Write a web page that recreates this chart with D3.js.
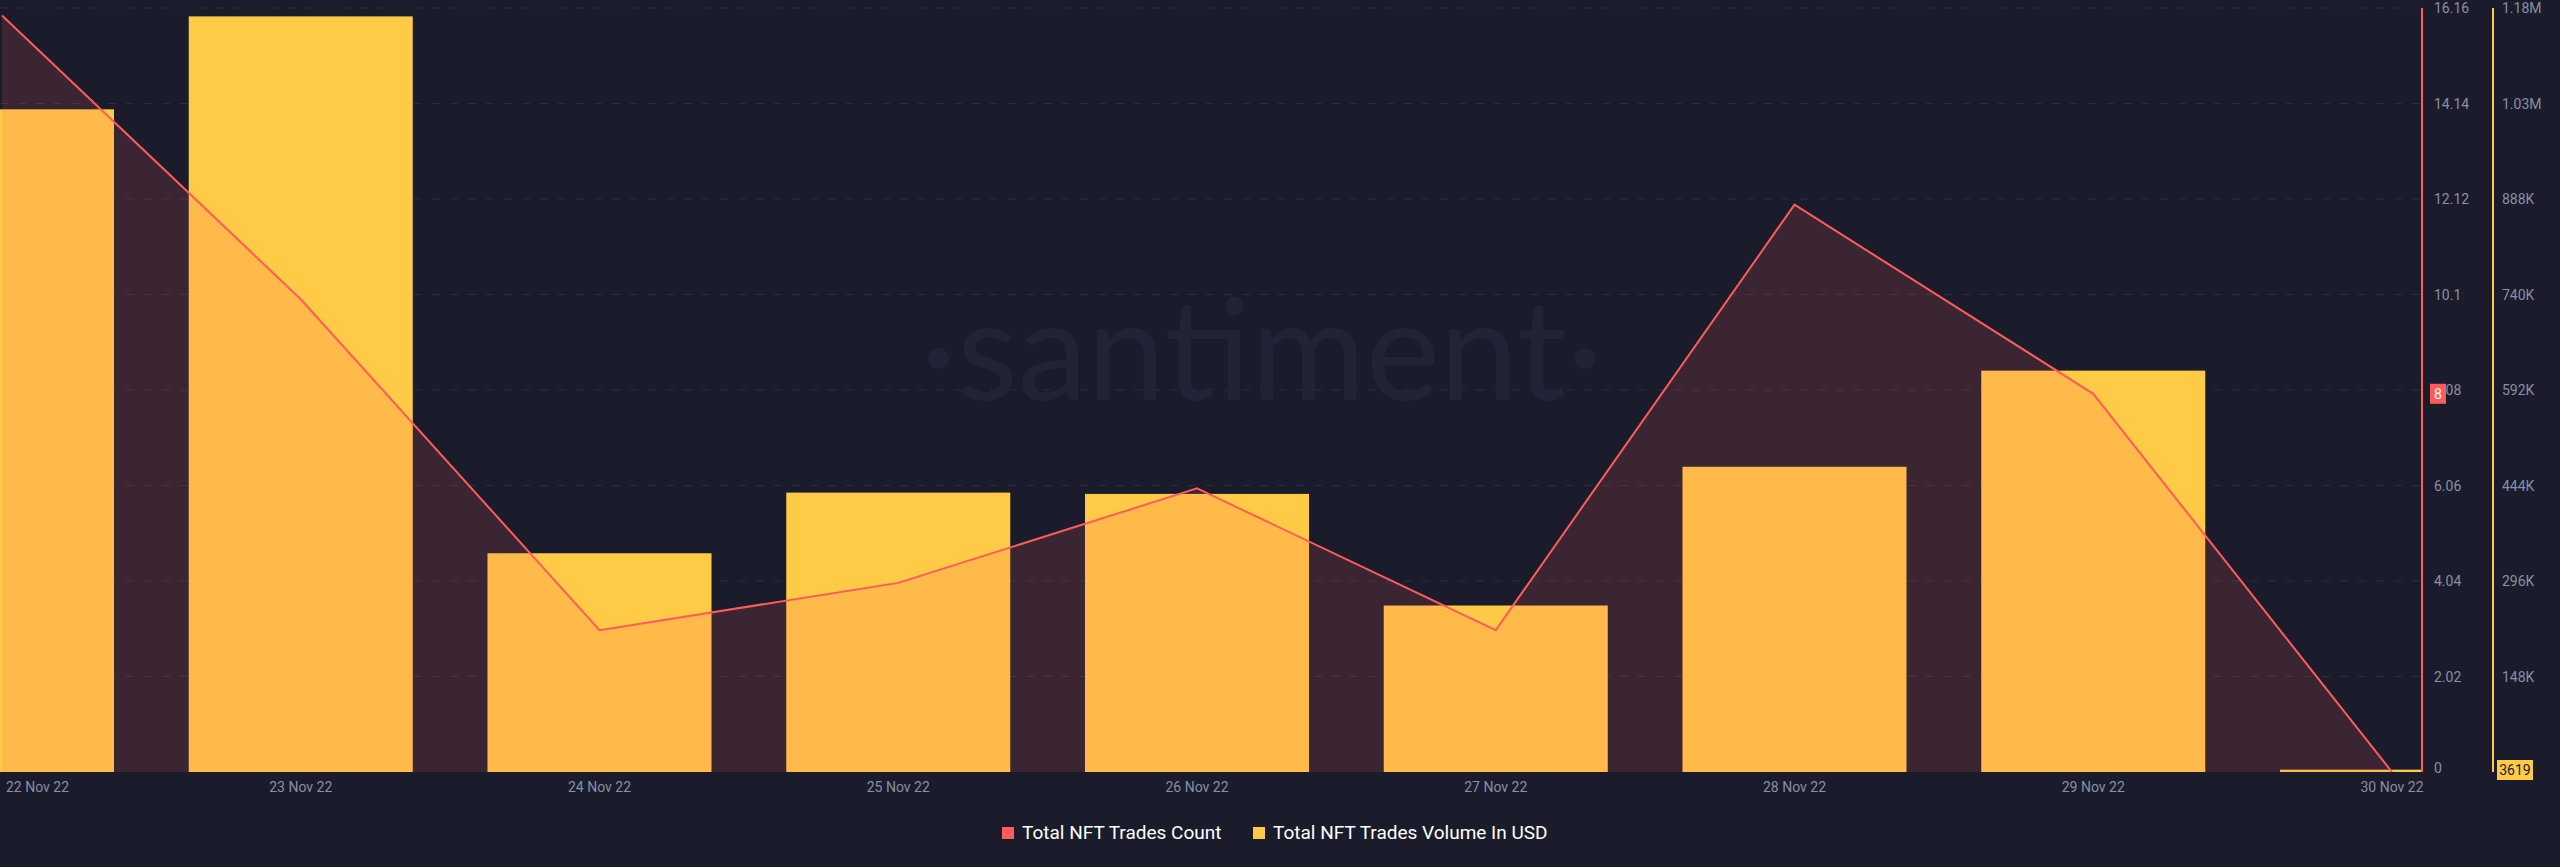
<!DOCTYPE html><html><head><meta charset="utf-8">
<script src="https://cdn.jsdelivr.net/npm/d3@7"></script>
<style>body{margin:0;background:#1a1c2c}</style></head><body>
<svg id="c" width="2560" height="867"></svg>
<script>
const dates=["22 Nov 22","23 Nov 22","24 Nov 22","25 Nov 22","26 Nov 22","27 Nov 22","28 Nov 22","29 Nov 22","30 Nov 22"];
const tradesCount=[16,10,3,4,6,3,12,8,0];
const tradesVolume=[1027000,1171000,339000,433000,431000,258000,473000,622000,3619];
const countTicks=[0,2.02,4.04,6.06,8.08,10.1,12.12,14.14,16.16];
const volumeTickLabels=["0","148K","296K","444K","592K","740K","888K","1.03M","1.18M"];
const volumeTicks=[0,148000,296000,444000,592000,740000,888000,1036000,1184000];

const svg=d3.select("#c");
const pL=2,pR=2392,pT=8,pB=772;
const x=d3.scalePoint().domain(dates).range([pL,pR]);
const yC=d3.scaleLinear().domain([0,16.16]).range([pB,pT]);
const yV=d3.scaleLinear().domain([0,1184000]).range([pB,pT]);
const bw=224;
const g=svg.append("g");
svg.append("defs").append("clipPath").attr("id","cl").append("rect").attr("x",0).attr("y",0).attr("width",2422).attr("height",pB);
g.selectAll(".gr").data(countTicks.slice(1)).join("line").attr("x1",0).attr("x2",2422)
 .attr("y1",d=>yC(d)).attr("y2",d=>yC(d)).attr("stroke","#2a2d40").attr("stroke-dasharray","8,10");
svg.append("text").attr("x",1262).attr("y",400).attr("text-anchor","middle").attr("font-family","Lato, sans-serif")
 .attr("font-size",140).attr("fill","#212436").text("·santiment·");
const p=svg.append("g").attr("clip-path","url(#cl)");
p.selectAll(".b").data(dates).join("rect").attr("x",d=>x(d)-bw/2).attr("width",bw)
 .attr("y",(d,i)=>yV(tradesVolume[i])).attr("height",(d,i)=>pB-yV(tradesVolume[i])).attr("fill","#ffcb47");
const area=d3.area().x((d,i)=>x(dates[i])).y0(pB).y1(d=>yC(d));
p.append("path").datum(tradesCount).attr("d",area).attr("fill","#ff5b5b").attr("fill-opacity",0.15);
p.append("path").datum(tradesCount).attr("d",d3.line().x((d,i)=>x(dates[i])).y(d=>yC(d))).attr("fill","none").attr("stroke","#ff5b5b").attr("stroke-width",2);
svg.selectAll(".xl").data(dates).join("text").attr("x",(d,i)=>i==0?6:x(d)).attr("y",792)
 .attr("text-anchor",(d,i)=>i==0?"start":"middle").attr("font-family","Roboto, sans-serif").attr("font-size",14).attr("fill","#8a8fa3").text(d=>d);
svg.append("line").attr("x1",2422).attr("x2",2422).attr("y1",pT).attr("y2",pB).attr("stroke","#ff5b5b").attr("stroke-width",2);
svg.append("line").attr("x1",2493).attr("x2",2493).attr("y1",pT).attr("y2",pB).attr("stroke","#ffcb47").attr("stroke-width",2);
svg.selectAll(".cl").data(countTicks).join("text").attr("x",2434).attr("y",d=>yC(d)+(d===0?1:5)).attr("font-family","Roboto, sans-serif")
 .attr("font-size",14).attr("fill","#8a8fa3").text(d=>d);
svg.selectAll(".vl").data(volumeTicks).join("text").attr("x",2502).attr("y",d=>yV(d)+5).attr("font-family","Roboto, sans-serif")
 .attr("font-size",14).attr("fill","#8a8fa3").text((d,i)=>volumeTickLabels[i]);
svg.append("rect").attr("x",2430).attr("y",yC(8)-10).attr("width",16).attr("height",20).attr("fill","#ff5b5b");
svg.append("text").attr("x",2438).attr("y",yC(8)+5).attr("text-anchor","middle").attr("font-family","Roboto, sans-serif").attr("font-size",14).attr("fill","#fff").text("8");
svg.append("rect").attr("x",2497).attr("y",pB-12).attr("width",36).attr("height",20).attr("fill","#ffcb47");
svg.append("text").attr("x",2515).attr("y",pB+3).attr("text-anchor","middle").attr("font-family","Roboto, sans-serif").attr("font-size",14).attr("fill","#1a1c2c").text("3619");
const lg=[["Total NFT Trades Count","#ff5b5b",1002],["Total NFT Trades Volume In USD","#ffcb47",1253]];
lg.forEach(([t,c,xx])=>{svg.append("rect").attr("x",xx).attr("y",827).attr("width",12).attr("height",12).attr("fill",c);
 svg.append("text").attr("x",xx+20).attr("y",839).attr("font-family","Roboto, sans-serif").attr("font-size",19).attr("fill","#fff").text(t);});
</script></body></html>
